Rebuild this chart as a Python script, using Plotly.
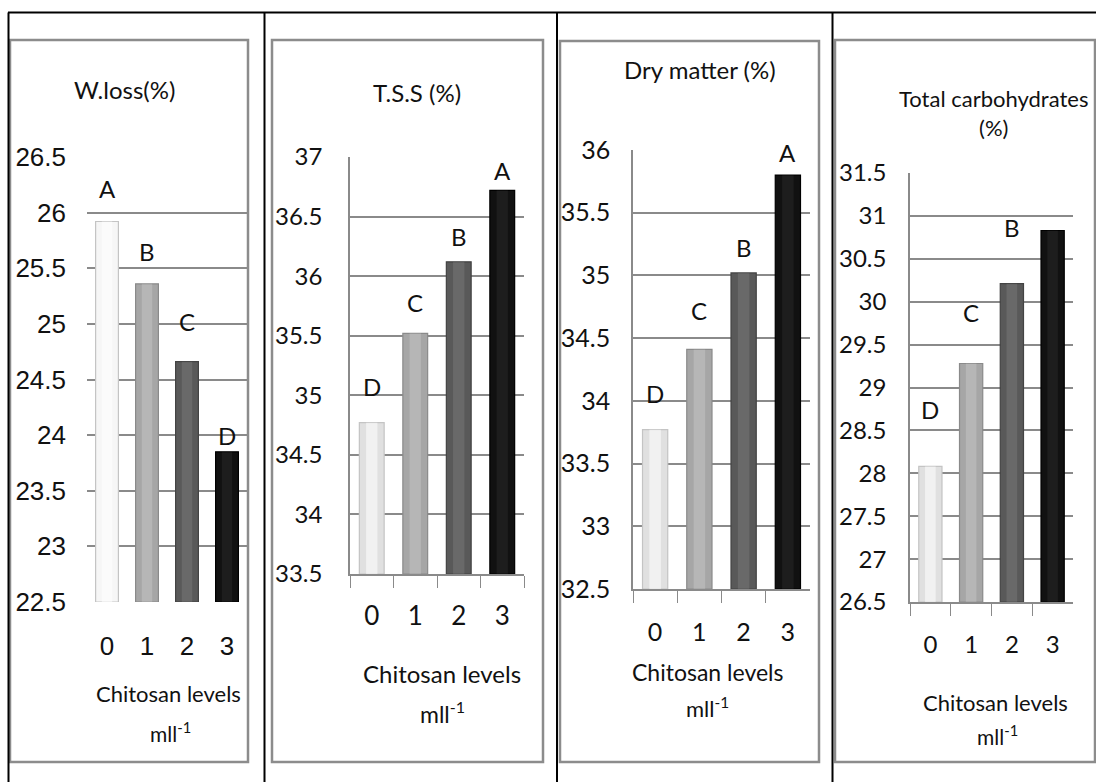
import plotly.graph_objects as go

W, H = 1096, 782

categories = ["0", "1", "2", "3"]

titles = ["W.loss(%)", "T.S.S (%)", "Dry matter (%)", "Total carbohydrates<br>(%)"]
wloss = [25.92, 25.36, 24.66, 23.85]
tss = [34.77, 35.52, 36.12, 36.72]
dry_matter = [33.77, 34.41, 35.02, 35.80]
carbs = [28.08, 29.28, 30.21, 30.83]
series = [wloss, tss, dry_matter, carbs]

letters = [["A", "B", "C", "D"], ["D", "C", "B", "A"], ["D", "C", "B", "A"], ["D", "C", "B", "A"]]
letter_y = [[26.22, 25.65, 25.02, 24.0],
            [35.07, 35.78, 36.33, 36.89],
            [34.06, 34.72, 35.22, 35.98],
            [28.74, 29.88, 30.87, 31.51]]

y_ranges = [[22.5, 26.5], [33.5, 37.0], [32.5, 36.0], [26.5, 31.5]]
x_title = "Chitosan levels"
x_unit = "mll<sup>-1</sup>"

bar_colors = [["#f6f6f6", "#a6a6a6", "#595959", "#111111"],
              ["#e0e0e0", "#a6a6a6", "#595959", "#111111"],
              ["#e0e0e0", "#a6a6a6", "#595959", "#111111"],
              ["#e0e0e0", "#a6a6a6", "#595959", "#111111"]]
edge_colors = ["#c4c4c4", "#8a8a8a", "#434343", "#000000"]
highlight_colors = ["rgba(255,255,255,0.55)", "rgba(255,255,255,0.18)",
                    "rgba(255,255,255,0.10)", "rgba(255,255,255,0.05)"]

# layout geometry (pixels)
plot_boxes = [(87, 247, 157, 602), (350, 524, 157, 574), (633, 810, 150, 589), (910, 1073, 173, 602)]
panel_boxes = [(10, 248, 40, 762), (272, 543, 40, 762), (560, 819, 41, 762), (835, 1095, 40, 762)]
title_pos = [(124, 90), (417, 92), (700, 70), (993, 113)]
xtitle_pos = [(168, 693), (442, 673), (707, 672), (995, 702)]
xunit_pos = [(170, 732), (442, 712), (707, 707), (997, 735)]
ystandoff = [20, 21, 16, 17]
xstandoff = [26, 18, 20, 20]
show_axis_lines = [False, True, True, True]

NARROW = "Lato, Roboto, sans-serif"
ARIAL = "Liberation Sans, Arial, sans-serif"
tick_fonts = [ARIAL, NARROW, NARROW, NARROW]
tick_sizes = [26, 24, 25, 24]
xtick_sizes = [26, 26, 25, 24]
title_sizes = [24, 24, 24, 22]
xtitle_sizes = [22, 24, 23, 22]
xunit_sizes = [21, 23, 22, 21]


def px(x):
    return x / W


def py(y):
    return 1 - y / H


fig = go.Figure()
shapes = []
annotations = []

for i in range(4):
    n = "" if i == 0 else str(i + 1)
    xa, ya = "x" + n, "y" + n
    base = y_ranges[i][0]
    heights = [v - base for v in series[i]]
    fig.add_trace(go.Bar(
        x=categories, y=heights, base=base,
        xaxis=xa, yaxis=ya, width=0.57,
        marker=dict(color=bar_colors[i], line=dict(color=edge_colors, width=1.2)),
        showlegend=False, hoverinfo="skip"))
    # soft central highlight for the bevelled look
    fig.add_trace(go.Bar(
        x=categories, y=heights, base=base,
        xaxis=xa, yaxis=ya, width=0.26,
        marker=dict(color=highlight_colors, line=dict(width=0)),
        showlegend=False, hoverinfo="skip"))
    x0, x1, y0, y1 = plot_boxes[i]
    axis_line = show_axis_lines[i]
    fig.layout["xaxis" + n] = dict(
        domain=[px(x0), px(x1)], anchor=ya, type="category", automargin=False,
        categoryorder="array", categoryarray=categories, range=[-0.5, 3.5],
        showgrid=False, zeroline=False,
        showline=axis_line, linecolor="#8a8a8a", linewidth=1.5,
        ticks="outside" if axis_line else "", tickson="boundaries",
        ticklen=12, tickcolor="#8a8a8a", tickwidth=1.2,
        ticklabelstandoff=xstandoff[i],
        tickfont=dict(family=tick_fonts[i], size=xtick_sizes[i], color="#111111"),
        fixedrange=True)
    fig.layout["yaxis" + n] = dict(
        domain=[py(y1), py(y0)], anchor=xa, range=y_ranges[i], dtick=0.5, automargin=False,
        showgrid=True, gridcolor="#8a8a8a", gridwidth=1.5, zeroline=False,
        showline=axis_line, linecolor="#8a8a8a", linewidth=1.5,
        ticks="", ticklabelstandoff=ystandoff[i],
        tickfont=dict(family=tick_fonts[i], size=tick_sizes[i], color="#111111"),
        fixedrange=True)
    # letters above bars
    for c, lab, ly in zip(categories, letters[i], letter_y[i]):
        annotations.append(dict(x=c, y=ly, xref=xa, yref=ya, text=lab, showarrow=False,
                                font=dict(family=NARROW, size=24, color="#111111"),
                                xanchor="center", yanchor="middle"))
    # panel title
    tx, ty = title_pos[i]
    annotations.append(dict(x=px(tx), y=py(ty), xref="paper", yref="paper", text=titles[i],
                            showarrow=False, xanchor="center", yanchor="middle",
                            font=dict(family=NARROW, size=title_sizes[i], color="#111111")))
    # x axis title
    tx, ty = xtitle_pos[i]
    annotations.append(dict(x=px(tx), y=py(ty), xref="paper", yref="paper", text=x_title,
                            showarrow=False, xanchor="center", yanchor="middle",
                            font=dict(family=NARROW, size=xtitle_sizes[i], color="#111111")))
    tx, ty = xunit_pos[i]
    annotations.append(dict(x=px(tx), y=py(ty), xref="paper", yref="paper", text=x_unit,
                            showarrow=False, xanchor="center", yanchor="middle",
                            font=dict(family=NARROW, size=xunit_sizes[i], color="#111111")))
    # grey panel border
    bx0, bx1, by0, by1 = panel_boxes[i]
    shapes.append(dict(type="rect", xref="paper", yref="paper",
                       x0=px(bx0), x1=px(bx1), y0=py(by1), y1=py(by0),
                       line=dict(color="#8c8c8c", width=2.5), layer="below"))

# outer table lines
shapes.append(dict(type="line", xref="paper", yref="paper", x0=px(8), x1=1, y0=py(12.5), y1=py(12.5),
                   line=dict(color="black", width=2)))
for vx in [8.5, 264.5, 557, 832.5]:
    shapes.append(dict(type="line", xref="paper", yref="paper", x0=px(vx), x1=px(vx), y0=0, y1=py(12.5),
                       line=dict(color="black", width=2)))

fig.update_layout(width=W, height=H, margin=dict(l=0, r=0, t=0, b=0, autoexpand=False),
                  paper_bgcolor="white", plot_bgcolor="rgba(0,0,0,0)", barmode="overlay",
                  shapes=shapes, annotations=annotations)

fig.write_html("out.html")
